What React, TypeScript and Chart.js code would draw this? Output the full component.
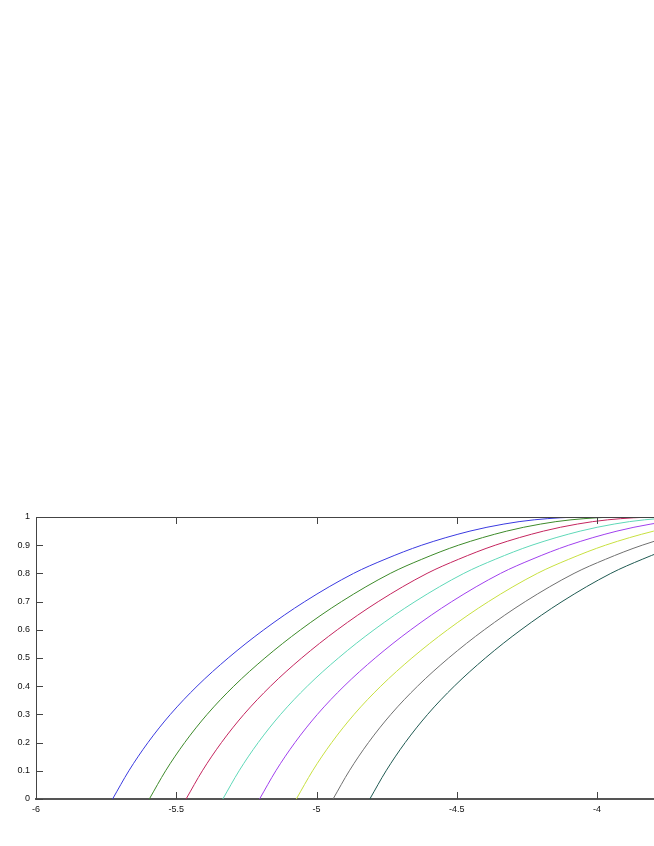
import React, { useEffect, useRef } from "react";
import { Chart, registerables } from "chart.js";

Chart.register(...registerables);

// Value levels (y) at which each curve's x position was read
const yLevels = [0, 0.1, 0.2, 0.3, 0.4, 0.5, 0.6, 0.7, 0.8, 0.85, 0.9, 0.95, 0.975, 0.99, 1, 1];

// x positions per curve at the levels above
const blueX = [-5.727, -5.669, -5.601, -5.521, -5.426, -5.315, -5.188, -5.042, -4.868, -4.756, -4.625, -4.453, -4.332, -4.224, -4.039, -3.0];
const greenX = [-5.596, -5.538, -5.47, -5.39, -5.295, -5.184, -5.057, -4.911, -4.737, -4.625, -4.494, -4.322, -4.201, -4.093, -3.908, -3.0];
const redX = [-5.465, -5.407, -5.339, -5.259, -5.164, -5.053, -4.926, -4.78, -4.606, -4.494, -4.363, -4.191, -4.07, -3.962, -3.777, -3.0];
const cyanX = [-5.334, -5.276, -5.208, -5.128, -5.033, -4.922, -4.795, -4.649, -4.475, -4.363, -4.232, -4.06, -3.939, -3.831, -3.646, -3.0];
const purpleX = [-5.203, -5.145, -5.077, -4.997, -4.902, -4.791, -4.664, -4.518, -4.344, -4.232, -4.101, -3.929, -3.808, -3.7, -3.515, -3.0];
const yellowX = [-5.072, -5.014, -4.946, -4.866, -4.771, -4.66, -4.533, -4.387, -4.213, -4.101, -3.97, -3.798, -3.677, -3.569, -3.384, -3.0];
const grayX = [-4.941, -4.883, -4.815, -4.735, -4.64, -4.529, -4.402, -4.256, -4.082, -3.97, -3.839, -3.667, -3.546, -3.438, -3.253, -3.0];
const darkX = [-4.81, -4.752, -4.684, -4.604, -4.509, -4.398, -4.271, -4.125, -3.951, -3.839, -3.708, -3.536, -3.415, -3.307, -3.122, -3.0];

const seriesX = [blueX, greenX, redX, cyanX, purpleX, yellowX, grayX, darkX];
const seriesColors = ["#3a3ae0", "#3d8a2a", "#c4255e", "#5fd8b8", "#a040ee", "#c8e040", "#707070", "#1f5a52"];

const xTickValues = [-6, -5.5, -5, -4.5, -4];
const xTickLabels = ["-6", "-5.5", "-5", "-4.5", "-4"];
const yTickValues = [0, 0.1, 0.2, 0.3, 0.4, 0.5, 0.6, 0.7, 0.8, 0.9, 1];
const yTickLabels = ["0", "0.1", "0.2", "0.3", "0.4", "0.5", "0.6", "0.7", "0.8", "0.9", "1"];

const xMin = -6;
const xMax = -3.797;

const frameTicks = {
  id: "frameTicks",
  afterDraw(chart: any) {
    const { ctx, chartArea: a, scales } = chart;
    const x = scales.x;
    const y = scales.y;
    ctx.save();
    ctx.strokeStyle = "#444";
    ctx.lineWidth = 1;
    ctx.beginPath();
    ctx.moveTo(a.left, a.top + 0.5);
    ctx.lineTo(a.right, a.top + 0.5);
    x.ticks.forEach((t: any) => {
      const px = Math.round(x.getPixelForValue(t.value)) + 0.5;
      ctx.moveTo(px, a.bottom);
      ctx.lineTo(px, a.bottom - 7);
      ctx.moveTo(px, a.top);
      ctx.lineTo(px, a.top + 7);
    });
    y.ticks.forEach((t: any) => {
      const py = Math.round(y.getPixelForValue(t.value)) + 0.5;
      ctx.moveTo(a.left, py);
      ctx.lineTo(a.left + 7, py);
    });
    ctx.stroke();
    ctx.restore();
  },
};

export default function App() {
  const ref = useRef<HTMLCanvasElement>(null);
  useEffect(() => {
    if (!ref.current) return;
    const datasets = seriesX.map((xs, i) => ({
      data: xs.map((xv, j) => ({ x: xv, y: yLevels[j] })),
      borderColor: seriesColors[i],
      borderWidth: 1,
      pointRadius: 0,
      showLine: true,
      fill: false,
      cubicInterpolationMode: "monotone" as const,
    }));
    const chart = new Chart(ref.current, {
      type: "scatter",
      data: { datasets },
      plugins: [frameTicks],
      options: {
        animation: false,
        responsive: false,
        devicePixelRatio: 1,
        layout: { padding: { top: 517, left: 0, right: 0, bottom: 0 } },
        plugins: { legend: { display: false }, tooltip: { enabled: false } },
        scales: {
          x: {
            type: "linear",
            min: xMin,
            max: xMax,
            afterFit: (s: any) => { s.height = 47; },
            afterBuildTicks: (s: any) => { s.ticks = xTickValues.map((v) => ({ value: v })); },
            grid: { display: false, drawTicks: false },
            border: { display: true, color: "#555", width: 2 },
            ticks: {
              padding: 5,
              color: "#111",
              font: { family: "Liberation Sans", size: 9 },
              maxRotation: 0,
              callback: (v: any) => { const k = xTickValues.indexOf(Number(v)); return k >= 0 ? xTickLabels[k] : ""; },
            },
          },
          y: {
            type: "linear",
            min: 0,
            max: 1,
            afterFit: (s: any) => { s.width = 36; },
            afterBuildTicks: (s: any) => { s.ticks = yTickValues.map((v) => ({ value: v })); },
            grid: { display: false, drawTicks: false },
            border: { display: true, color: "#444", width: 1 },
            ticks: {
              padding: 6,
              color: "#111",
              font: { family: "Liberation Sans", size: 9 },
              callback: (v: any) => { const k = yTickValues.findIndex((t) => Math.abs(t - Number(v)) < 1e-9); return k >= 0 ? yTickLabels[k] : ""; },
            },
          },
        },
      },
    });
    return () => chart.destroy();
  }, []);
  return (
    <div style={{ position: "absolute", left: 0, top: 0, width: 654, height: 846, overflow: "hidden", background: "#fff" }}>
      <canvas ref={ref} width={654} height={846} style={{ display: "block" }} />
    </div>
  );
}
